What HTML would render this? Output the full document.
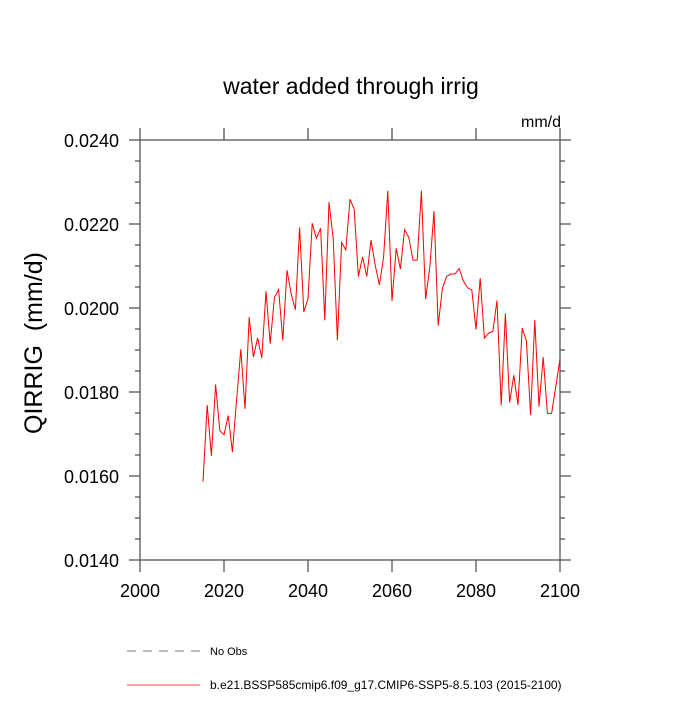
<!DOCTYPE html>
<html><head><meta charset="utf-8"><style>body{margin:0;background:#fff}svg{font-family:"Liberation Sans",sans-serif}</style></head>
<body>
<svg id="chart" width="700" height="700" viewBox="0 0 700 700" xmlns="http://www.w3.org/2000/svg">
<text x="351" y="94" font-size="23" text-anchor="middle">water added through irrig</text>
<text x="561" y="127" font-size="16" text-anchor="end">mm/d</text>
<text transform="translate(42,343) rotate(-90)" font-size="25" text-anchor="middle" xml:space="preserve">QIRRIG  (mm/d)</text>
<g id="axes"></g>
<rect x="140" y="140" width="420" height="420" fill="none" stroke="#555" stroke-width="1.3"/>
<g id="series"></g>
<line x1="127" y1="651" x2="200" y2="651" stroke="#777" stroke-dasharray="9,7"/>
<text x="210" y="655" font-size="11">No Obs</text>
<line x1="127" y1="685" x2="200" y2="685" stroke="#f44"/>
<text x="210" y="689" font-size="12">b.e21.BSSP585cmip6.f09_g17.CMIP6-SSP5-8.5.103 (2015-2100)</text>
</svg>
<script>
const years = [];
for (let y = 2015; y <= 2100; y++) years.push(y);
const qirrig = [0.01587,0.01769,0.01648,0.01818,0.01708,0.01698,0.01744,0.01657,0.01781,0.01902,
0.01760,0.01978,0.01883,0.01929,0.01881,0.02040,0.01915,0.02025,0.02044,0.01923,
0.02090,0.02033,0.01996,0.02192,0.01991,0.02022,0.02202,0.02166,0.02190,0.01971,
0.02252,0.02166,0.01923,0.02156,0.02138,0.02259,0.02235,0.02075,0.02122,0.02075,
0.02162,0.02102,0.02055,0.02122,0.02279,0.02017,0.02142,0.02093,0.02187,0.02168,
0.02114,0.02114,0.02279,0.02021,0.02097,0.02231,0.01958,0.02047,0.02075,0.02081,
0.02081,0.02094,0.02064,0.02048,0.02043,0.01949,0.02071,0.01928,0.01940,0.01944,
0.02018,0.01768,0.01987,0.01775,0.01840,0.01769,0.01952,0.01922,0.01745,0.01971,
0.01765,0.01883,0.01749,0.01749,0.01813,0.01878];
const xTickLabels = ["2000","2020","2040","2060","2080","2100"];
const yTickLabels = ["0.0140","0.0160","0.0180","0.0200","0.0220","0.0240"];
const X = v => 140 + (v - 2000) * 4.2;
const Y = v => 560 - (v - 0.014) / 0.010 * 420;
const NS = "http://www.w3.org/2000/svg";
const axes = document.getElementById("axes");
function ln(x1,y1,x2,y2,name){const l=document.createElementNS(NS,"line");l.setAttribute("x1",x1);l.setAttribute("y1",y1);l.setAttribute("x2",x2);l.setAttribute("y2",y2);l.setAttribute("stroke","#555");l.setAttribute("stroke-width","1.3");


axes.appendChild(l);}
function tx(x,y,s,anchor,name){const t=document.createElementNS(NS,"text");t.setAttribute("x",x);t.setAttribute("y",y);t.setAttribute("font-size","18");t.setAttribute("text-anchor",anchor);t.textContent=s;


axes.appendChild(t);}
for (let v = 2000; v <= 2100; v += 20) {
  const x = X(v);
  ln(x,560,x,572,"x-tick"); ln(x,140,x,128,"x-tick-top");
}
for (let i = 0; i <= 20; i++) {
  const v = 0.014 + i * 0.0005, L = (i % 4 === 0) ? 11 : 5, y = Y(v);
  ln(140,y,140-L,y,"y-tick"); ln(560,y,560+L,y,"y-tick-right");
}
xTickLabels.forEach(s => tx(X(+s), 597, s, "middle", "x-tick-label"));
yTickLabels.forEach(s => tx(119, Y(+s) + 7, s, "end", "y-tick-label"));
const p = document.createElementNS(NS,"polyline");
p.setAttribute("points", years.map((yr,i)=>X(yr).toFixed(1)+","+Y(qirrig[i]).toFixed(1)).join(" "));
p.setAttribute("fill","none");p.setAttribute("stroke","#f00");p.setAttribute("stroke-width","1");


document.getElementById("series").appendChild(p);
</script>
</body></html>
